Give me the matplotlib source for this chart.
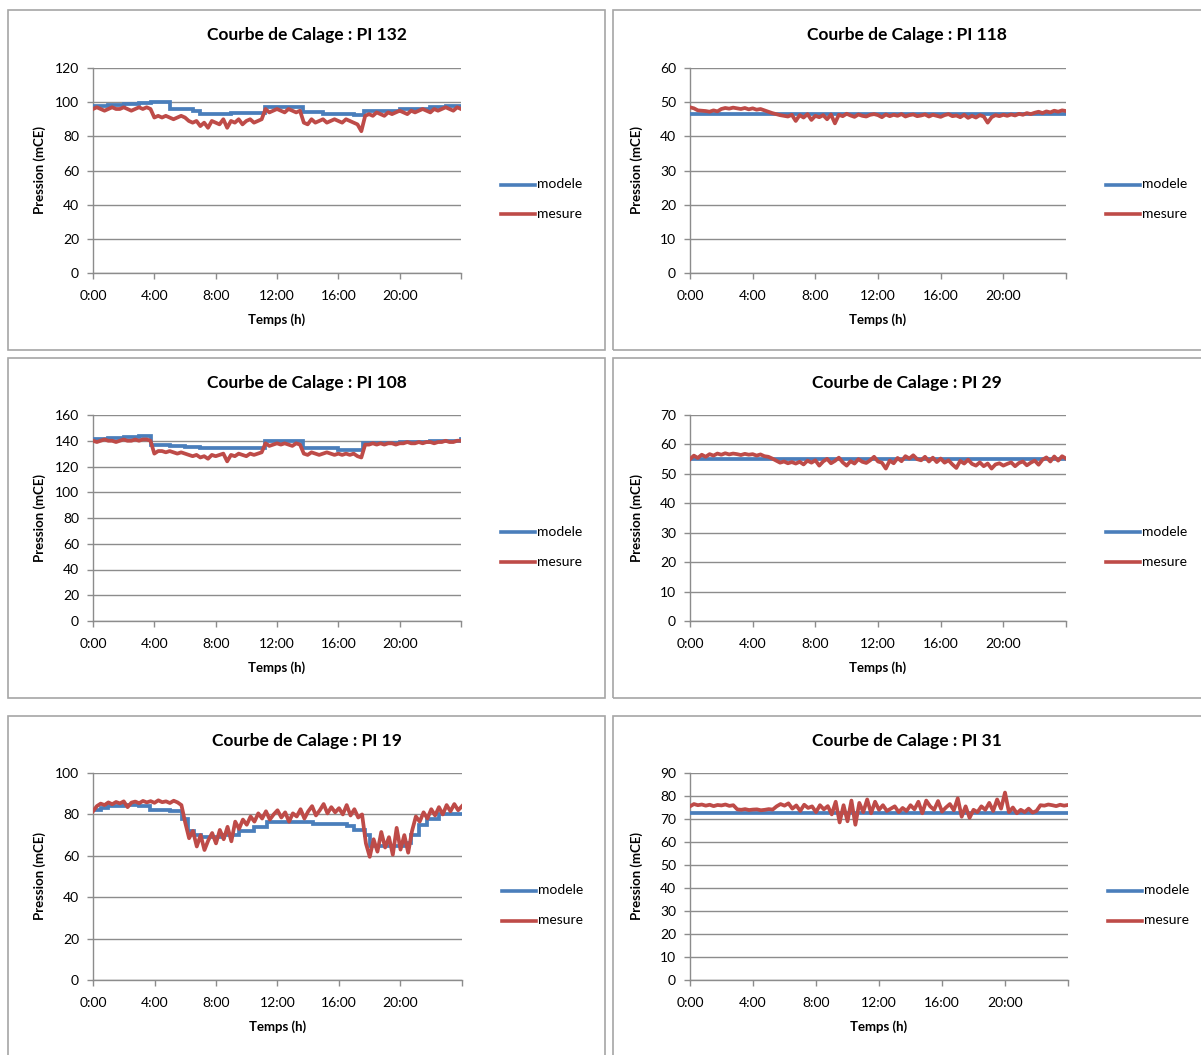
import matplotlib
matplotlib.use("Agg")
import matplotlib.pyplot as plt
from matplotlib.patches import Rectangle
import numpy as np

plt.rcParams['font.family'] = ['Lato', 'DejaVu Sans']

# --- data (pressure in mCE, time in hours) ---
titles = ["Courbe de Calage : PI 132", "Courbe de Calage : PI 118",
          "Courbe de Calage : PI 108", "Courbe de Calage : PI 29",
          "Courbe de Calage : PI 19", "Courbe de Calage : PI 31"]
y_max = [120, 60, 160, 70, 100, 90]
y_step = [20, 10, 20, 10, 20, 10]
hour_ticks = [0, 4, 8, 12, 16, 20]
hour_labels = ["0:00", "4:00", "8:00", "12:00", "16:00", "20:00"]

# modele: step values (time, value)
mod132_t = [0, 1, 2, 3, 3.8, 5, 6.5, 7, 9, 11.2, 13.7, 15, 17, 17.7, 20, 22, 23, 24]
mod132_v = [98, 98.5, 99, 99.5, 100, 96, 95, 93, 93.5, 97, 94, 93, 92.5, 95, 96, 97, 98, 98]
mod118_t = [0, 24]
mod118_v = [46.5, 46.5]
mod108_t = [0, 1, 2, 3, 3.8, 5, 6, 7, 11.2, 13.7, 16, 17.6, 18.5, 20, 22, 24]
mod108_v = [141, 142, 143, 143.5, 137, 136, 135, 134, 140, 134, 133, 138, 138.5, 139, 140, 141]
mod29_t = [0, 24]
mod29_v = [55, 55]
mod19_t = [0, 0.5, 1, 2, 3, 3.7, 5, 5.8, 6.2, 6.6, 7, 8.5, 9.5, 10.5, 11.3, 12.5,
           14.3, 16.5, 17, 17.7, 18, 20.3, 20.7, 21.2, 21.7, 22.5, 24]
mod19_v = [82, 83, 84, 84.5, 84, 82, 81.5, 78, 72, 70, 69, 70, 72, 74, 76.5, 76.5,
           75.5, 74.5, 72.5, 70, 64.5, 66, 70, 75, 78, 80, 80]
mod31_t = [0, 24]
mod31_v = [72.5, 72.5]

# mesure: one reading every 15 minutes, 0:00 .. 24:00
mes132 = [96, 97, 96, 95, 96, 97, 96, 96, 97, 96, 95, 96, 97, 96, 97, 96,
          91, 92, 91, 92, 91, 90, 91, 92,
          91, 89, 88, 89, 86, 88, 85, 89,
          88, 87, 90, 85, 89, 88, 90, 87, 89, 90, 88, 89, 90,
          96, 94, 95, 96, 95, 94, 96, 95, 94, 95,
          88, 87, 90, 88, 89, 90, 88, 89, 90, 89, 88, 90, 89, 88, 87,
          83,
          92, 93, 92, 94, 93, 92, 94, 93, 94, 95, 94, 93, 95, 94, 95, 96, 95, 94,
          96, 95, 96, 97, 96, 95, 97, 96]
mes118 = [48.5, 48.2, 47.6, 47.5, 47.4, 47.2, 47.6, 47.3, 48.0, 48.3, 48.1, 48.4, 48.2, 48.0, 48.3, 47.9,
          48.2, 47.8, 48.0, 47.6, 47.2, 46.8, 46.5, 46.2,
          46.0, 45.8, 46.3, 44.5, 46.2, 45.5, 46.5, 44.8, 46.0, 45.6, 46.2, 45.0,
          46.4, 43.8, 46.3, 45.9, 46.6, 46.1, 45.7, 46.4, 46.0, 45.8, 46.3, 46.5,
          46.2, 45.6, 46.4, 45.9, 46.3, 46.0, 46.5, 45.8, 46.2, 46.4, 45.9, 46.1,
          46.4, 45.8, 46.3, 46.0, 45.7, 46.2, 46.5, 45.9, 46.1, 45.6, 46.3, 45.4,
          46.0, 45.5, 46.2, 45.8, 44.0, 45.6, 46.2, 45.9, 46.3, 46.0, 46.4, 46.1,
          46.6, 46.3, 46.8, 46.5, 46.9, 47.2, 46.8, 47.3, 47.0, 47.5, 47.2, 47.6, 47.4]
mes108 = [140, 139, 140, 141, 140, 140, 139, 140, 141, 140, 140, 141, 140, 141, 141, 140,
          130, 132, 132, 131, 132, 131, 130, 131,
          130, 129, 128, 129, 127, 128, 126, 129,
          128, 129, 130, 124, 129, 128, 130, 129, 128, 130, 129, 130, 131,
          138, 136, 137, 138, 137, 138, 137, 136, 138, 137,
          130, 129, 131, 130, 129, 130, 131, 130, 129, 130, 129, 130, 129, 130, 128,
          127,
          137, 137, 138, 137, 138, 137, 138, 138, 137, 138, 138, 139, 138, 138, 139, 138,
          139, 139, 138, 139, 139, 140, 139, 139, 140, 140]
mes29 = [55.0, 56.2, 55.4, 56.5, 55.8, 56.7, 56.2, 56.9, 56.5, 57.0, 56.6, 56.9, 56.7, 56.4, 56.8,
         56.5, 56.7, 56.2, 56.6, 56.0,
         55.8, 55.2, 54.5, 53.8, 54.2, 53.6, 54.0, 53.5,
         54.1, 53.2, 54.5, 53.8, 54.6, 52.8, 54.2, 55.1, 53.6, 54.4, 55.5, 53.9, 52.8, 54.3,
         53.5, 55.0, 54.1, 53.7, 54.6, 55.8,
         54.2, 53.8, 51.8, 54.5, 53.6, 55.4, 54.3, 56.0, 55.2, 56.3, 55.0, 54.6, 55.8, 54.2,
         55.5, 54.0,
         55.2, 53.8, 54.6, 53.2, 52.0, 54.4, 53.5, 54.8, 53.4, 52.8, 53.9, 52.6, 53.5, 51.8,
         53.2, 53.6,
         52.8, 53.4, 53.9, 52.6, 53.7, 54.2, 52.9, 53.8, 54.5, 53.1, 54.8, 55.6, 54.2, 55.9,
         54.5, 56.0, 55.2]
mes19 = [81.5, 84.0, 85.2, 84.5, 85.8, 84.9, 86.0, 85.3, 86.3, 83.5, 85.7, 86.2, 85.4, 86.5,
         85.8, 86.4, 85.6, 86.8, 85.9, 86.3, 85.5, 86.6,
         85.8, 84.5,
         76.0, 68.5, 72.0, 64.5, 70.0, 62.8, 67.5, 71.0, 66.0, 72.5, 68.0, 74.0, 67.0, 76.5,
         73.0, 77.5,
         75.0, 79.0, 76.5, 80.5, 78.0, 81.5, 77.5, 80.0, 82.0, 78.5, 81.0, 76.5, 80.5, 79.0,
         82.5, 78.0, 81.5, 84.0, 79.5, 82.0, 85.0, 80.5, 83.5, 81.0,
         83.0, 80.0, 84.5, 79.5, 82.5, 78.5, 80.0,
         66.0, 59.5, 68.0, 62.0, 71.5, 64.0, 69.0, 60.5, 73.5, 63.0, 70.0, 61.5, 72.0,
         79.0, 76.5, 81.0, 78.0, 82.5, 79.5, 83.5, 80.0, 84.5, 81.5, 85.0, 82.0, 84.0]
mes31 = [75.5, 76.5, 76.0, 76.3, 75.8, 76.2, 75.6, 76.1, 75.9, 76.3, 75.7, 76.0,
         74.2, 74.0, 74.3, 73.9, 74.1, 74.2, 73.8, 74.0, 74.3, 74.1, 75.5,
         76.5, 75.8, 76.8, 74.5, 75.9, 73.5, 76.2, 74.8, 75.5, 73.0, 76.0, 74.2, 75.6,
         72.0, 77.5, 68.5, 76.0, 69.0, 78.0, 67.5, 77.0, 73.0, 78.5, 72.5, 77.5, 74.0,
         76.0, 73.5, 74.5,
         75.5, 73.0, 74.8, 73.5, 76.0, 74.2, 77.5, 72.5, 78.0, 75.5, 74.0, 77.8, 73.2,
         75.0, 76.5, 73.8,
         79.0, 71.0, 75.5, 70.5, 74.0, 73.0, 75.5, 74.0, 77.0, 73.5, 78.5, 74.5, 81.5,
         73.0, 75.0, 72.5, 74.0,
         73.0, 74.5, 72.8, 73.5, 76.0, 75.8, 76.3, 76.0, 75.6, 76.2, 75.8, 76.1]

modele = [(mod132_t, mod132_v), (mod118_t, mod118_v), (mod108_t, mod108_v),
          (mod29_t, mod29_v), (mod19_t, mod19_v), (mod31_t, mod31_v)]
mesure = [mes132, mes118, mes108, mes29, mes19, mes31]

W, H = 1201, 1055
BLUE = "#4a7ebb"
RED = "#be4b48"
GRID = "#8c8c8c"

fig = plt.figure(figsize=(W / 100, H / 100), dpi=100)

# panel frames and plot areas, in pixels (left, top, right, bottom)
panels = [(8, 10, 605, 350), (613, 10, 1215, 350),
          (8, 358, 605, 698), (613, 358, 1215, 698),
          (8, 716, 605, 1070), (613, 716, 1215, 1070)]
plot_boxes = [(93, 68, 461, 273), (690, 68, 1066, 273),
              (93, 415, 461, 621), (690, 415, 1066, 621),
              (93, 773, 462, 980), (690, 773, 1068, 980)]


def fx(px):
    return px / W


def fy(py):
    return 1 - py / H


for i in range(6):
    l, t, r, b = panels[i]
    fig.add_artist(Rectangle((fx(l), fy(b)), fx(r - l), (b - t) / H,
                             transform=fig.transFigure, fill=False,
                             edgecolor="#a6a6a6", lw=1.2))
    pl, pt, pr, pb = plot_boxes[i]
    ax = fig.add_axes([fx(pl), fy(pb), fx(pr - pl), (pb - pt) / H])

    mt, mv = modele[i]
    ax.plot(mt, mv, color=BLUE, lw=2.7, drawstyle="steps-post",
            solid_joinstyle="miter", zorder=3)
    hours = np.linspace(0, 24, len(mesure[i]))
    ax.plot(hours, mesure[i], color=RED, lw=2.7, zorder=4)

    ax.set_xlim(0, 24)
    ax.set_ylim(0, y_max[i])
    ax.set_yticks(np.arange(0, y_max[i] + 1, y_step[i]))
    ax.set_xticks(hour_ticks + [24])
    ax.set_xticklabels(hour_labels + [""])
    ax.yaxis.grid(True, color=GRID, lw=1)
    ax.set_axisbelow(True)
    for s in ["top", "right"]:
        ax.spines[s].set_visible(False)
    for s in ["left", "bottom"]:
        ax.spines[s].set_color(GRID)
        ax.spines[s].set_linewidth(1)
    ax.tick_params(axis="both", colors=GRID, labelcolor="black",
                   labelsize=10, length=4, width=1)
    ax.tick_params(axis="x", pad=8)
    ax.tick_params(axis="y", pad=6)

    cx = (l + min(r, 1201)) / 2
    fig.text(fx(cx), fy(t + 25), titles[i], ha="center", va="center",
             fontsize=12.5, fontweight="bold")
    fig.text(fx(pl - 53), fy((pt + pb) / 2), "Pression (mCE)", rotation=90,
             ha="center", va="center", fontsize=9.5, fontweight="bold")
    fig.text(fx((pl + pr) / 2), fy(pb + 47), "Temps (h)", ha="center",
             va="center", fontsize=9.5, fontweight="bold")

    # legend on the right side
    lx = pr + 40
    for k, (name, col) in enumerate([("modele", BLUE), ("mesure", RED)]):
        yy = fy((pt + pb) / 2 + 14 + 30 * k)
        fig.add_artist(plt.Line2D([fx(lx), fx(lx + 34)], [yy, yy],
                                  color=col, lw=2.6, transform=fig.transFigure))
        fig.text(fx(lx + 36), yy, name, ha="left", va="center", fontsize=10)

fig.savefig("out.png", dpi=100)
